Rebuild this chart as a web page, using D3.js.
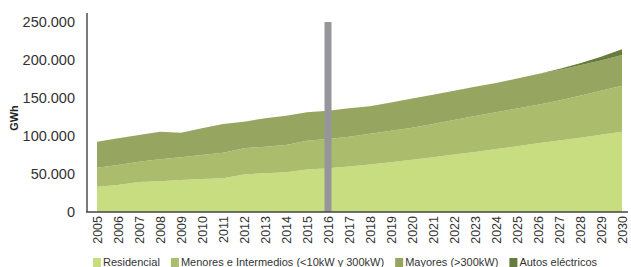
<!DOCTYPE html>
<html>
<head>
<meta charset="utf-8">
<script src="https://cdn.jsdelivr.net/npm/d3@7"></script>
<style>
  body { margin: 0; background: #fff; }
  svg { display: block; font-family: "Liberation Sans", Arial, sans-serif; }
</style>
</head>
<body>
<div class="chart"></div>
<script>
// years on the x axis
var years = d3.range(2005, 2031);

// GWh per segment
var residencial = [33300, 35500, 39500, 40400, 42100, 43400, 44300, 49500, 50900, 52200,
  56000, 57500, 59800, 62500, 65500, 68700, 72000, 75500, 79000, 82800,
  86600, 90300, 94000, 97800, 101600, 105500];
var menores = [25000, 26300, 26700, 28900, 29900, 31600, 33700, 34300, 35100, 36000,
  37800, 38500, 39200, 40300, 41300, 42300, 43800, 45500, 47300, 48500,
  49600, 50700, 52800, 55200, 57900, 60500];
var mayores = [34200, 35200, 35100, 36400, 32400, 35100, 37800, 35000, 37300, 38500,
  37400, 37300, 37400, 36200, 37200, 38200, 38600, 38600, 38400, 38500,
  39300, 40500, 40200, 40000, 40000, 40500];
var autos = [0, 0, 0, 0, 0, 0, 0, 0, 0, 0,
  0, 0, 0, 0, 0, 0, 0, 0, 0, 0,
  0, 0, 1200, 2800, 4800, 7500];

var seriesNames = ["Residencial", "Menores e Intermedios (<10kW y 300kW)", "Mayores (>300kW)", "Autos eléctricos"];
var seriesColors = ["#c8dc80", "#abbd6c", "#96a660", "#657c3c"];
var yTicks = [0, 50000, 100000, 150000, 200000, 250000];
var markerYear = 2016;

// build rows for d3.stack
var keys = ["res", "men", "may", "aut"];
var rows = years.map(function(yr, i) {
  return { year: yr, res: residencial[i], men: menores[i], may: mayores[i], aut: autos[i] };
});

var svgWidth = 631, svgHeight = 267;
var margin = { top: 22, right: 9, bottom: 55, left: 97 };

var svg = d3.select(".chart")
  .append("svg")
  .attr("width", svgWidth)
  .attr("height", svgHeight);

var x = d3.scaleLinear()
  .domain([2005, 2030])
  .range([margin.left, svgWidth - margin.right - 0]);
x.range([97, 622]);

var y = d3.scaleLinear()
  .domain([0, 250000])
  .range([212, 22]);

var stacked = d3.stack().keys(keys)(rows);

var area = d3.area()
  .x(d => x(d.data.year))
  .y0(d => y(d[0]))
  .y1(d => y(d[1]));

svg.append("g")
  .selectAll("path")
  .data(stacked)
  .enter()
  .append("path")
  .attr("d", area)
  .attr("fill", (d, i) => seriesColors[i]);

// grey marker bar at 2016
svg.append("rect")
  .attr("x", x(markerYear) - 3.5)
  .attr("width", 7)
  .attr("y", y(250000))
  .attr("height", y(0) - y(250000))
  .attr("fill", "#96969a");

// thousands with a dot
var fmt = d3.formatLocale({ decimal: ",", thousands: ".", grouping: [3], currency: ["", ""] }).format(",");

// y axis
var yAxis = svg.append("g")
  .attr("transform", "translate(87,0)")
  .call(d3.axisLeft(y).tickValues(yTicks).tickFormat(fmt).tickSize(0).tickPadding(12));
yAxis.select(".domain").remove();
yAxis.selectAll("text")
  .style("font-size", "14.5px")
  .attr("fill", "#333");

svg.append("line")
  .attr("x1", 87).attr("x2", 87)
  .attr("y1", y(262000)).attr("y2", y(0))
  .attr("stroke", "#7a7a7a")
  .attr("stroke-width", 2);

// x axis
var xAxis = svg.append("g")
  .attr("transform", "translate(0," + y(0) + ")")
  .call(d3.axisBottom(x).tickValues(years).tickFormat(d3.format("d")).tickSize(0));
xAxis.select(".domain").remove();
xAxis.selectAll("text")
  .style("font-size", "12.5px")
  .attr("fill", "#333")
  .attr("text-anchor", "end")
  .attr("transform", "rotate(-90)")
  .attr("x", -4)
  .attr("y", 0)
  .attr("dy", "0.35em");

svg.append("line")
  .attr("x1", 86).attr("x2", 628)
  .attr("y1", y(0)).attr("y2", y(0))
  .attr("stroke", "#444")
  .attr("stroke-width", 1.5);

// axis title
svg.append("text")
  .attr("transform", "translate(18,118) rotate(-90)")
  .attr("text-anchor", "middle")
  .style("font-size", "11px")
  .style("font-weight", "bold")
  .attr("fill", "#222")
  .text("GWh");

// legend
var legend = svg.append("g").attr("transform", "translate(93,258)");
var lx = 0;
seriesNames.forEach(function(name, i) {
  var item = legend.append("g").attr("transform", "translate(" + lx + ",0)");
  item.append("rect")
    .attr("width", 8).attr("height", 9)
    .attr("fill", seriesColors[i]);
  var t = item.append("text")
    .attr("x", 10)
    .attr("y", 8)
    .style("font-size", "11px")
    .attr("fill", "#333")
    .text(name);
  lx += 10 + t.node().getComputedTextLength() + 11;
});
</script>
</body>
</html>
